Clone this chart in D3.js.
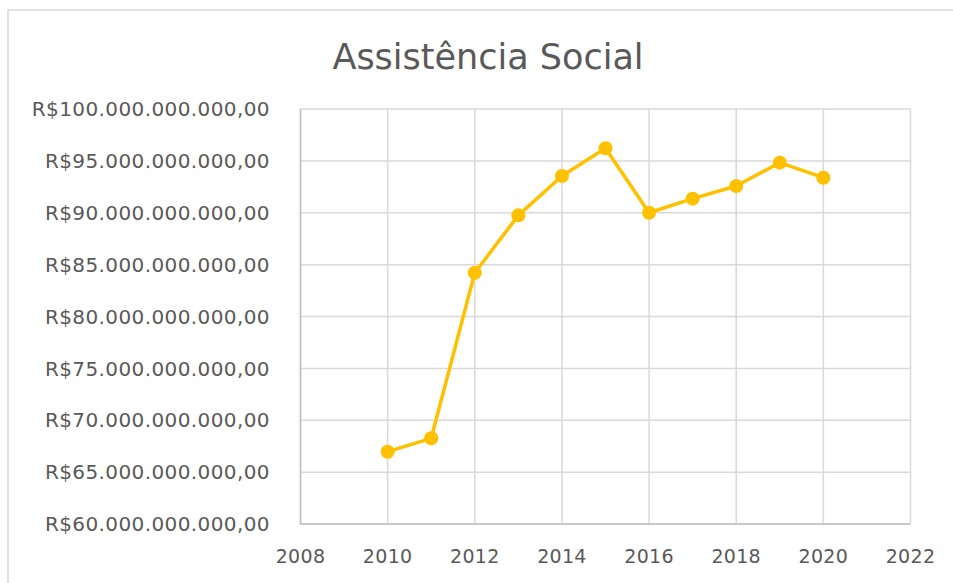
<!DOCTYPE html>
<html>
<head>
<meta charset="utf-8">
<script src="https://cdn.jsdelivr.net/npm/d3@7"></script>
<style>
  body { margin: 0; background: #fff; }
  text { font-family: "DejaVu Sans", sans-serif; fill: #595959; }
</style>
</head>
<body>
<svg id="chart" width="953" height="583"></svg>
<script>
// data
var years = [2010, 2011, 2012, 2013, 2014, 2015, 2016, 2017, 2018, 2019, 2020];
var values = [66.97e9, 68.26e9, 84.22e9, 89.75e9, 93.54e9, 96.21e9, 90.0e9, 91.36e9, 92.58e9, 94.83e9, 93.38e9];
var xTicks = [2008, 2010, 2012, 2014, 2016, 2018, 2020, 2022];
var yTicks = [60e9, 65e9, 70e9, 75e9, 80e9, 85e9, 90e9, 95e9, 100e9];
var title = "Assistência Social";

var svg = d3.select("#chart");

// outer chart border
svg.append("rect")
    .attr("x", 8).attr("y", 10)
    .attr("width", 960).attr("height", 600)
    .attr("fill", "none")
    .attr("stroke", "#d9d9d9")
    .attr("stroke-width", 1.5);

var x = d3.scaleLinear().domain([2008, 2022]).range([300.5, 910.5]);
var y = d3.scaleLinear().domain([60e9, 100e9]).range([524, 109]);

// format like R$95.000.000.000,00
function brl(v){
    var s = d3.format(",.2f")(v);
    return "R$" + s.replace(/,/g, "#").replace(".", ",").replace(/#/g, ".");
}

// gridlines
svg.append("g").selectAll("line").data(yTicks).join("line")
    .attr("x1", x(2008)).attr("x2", x(2022))
    .attr("y1", function(d){ return y(d); }).attr("y2", function(d){ return y(d); })
    .attr("stroke", "#d9d9d9").attr("stroke-width", 1.5);

svg.append("g").selectAll("line").data(xTicks).join("line")
    .attr("x1", function(d){ return x(d); }).attr("x2", function(d){ return x(d); })
    .attr("y1", y(60e9)).attr("y2", y(100e9))
    .attr("stroke", "#d9d9d9").attr("stroke-width", 1.5);

// axis lines
svg.append("line")
    .attr("x1", x(2008)).attr("x2", x(2022))
    .attr("y1", y(60e9)).attr("y2", y(60e9))
    .attr("stroke", "#bfbfbf").attr("stroke-width", 1.5);
svg.append("line")
    .attr("x1", x(2008)).attr("x2", x(2008))
    .attr("y1", y(60e9)).attr("y2", y(100e9))
    .attr("stroke", "#bfbfbf").attr("stroke-width", 1.5);

// y labels
svg.append("g").selectAll("text").data(yTicks).join("text")
    .attr("x", 270)
    .attr("y", function(d){ return y(d); })
    .attr("dy", "0.36em")
    .attr("text-anchor", "end")
    .style("font-size", "20px")
    .style("letter-spacing", "0.4px")
    .text(brl);

// x labels
svg.append("g").selectAll("text").data(xTicks).join("text")
    .attr("x", function(d){ return x(d); })
    .attr("y", 563)
    .attr("text-anchor", "middle")
    .style("font-size", "19px")
    .style("letter-spacing", "0.3px")
    .text(function(d){ return d; });

// title
svg.append("text")
    .attr("x", 488).attr("y", 69)
    .attr("text-anchor", "middle")
    .style("font-size", "35px")
    .text(title);

// series
var pts = years.map(function(d, i){ return [d, values[i]]; });
var line = d3.line()
    .x(function(d){ return x(d[0]); })
    .y(function(d){ return y(d[1]); });

svg.append("path")
    .datum(pts)
    .attr("d", line)
    .attr("fill", "none")
    .attr("stroke", "#ffc000")
    .attr("stroke-width", 3.5)
    .attr("stroke-linejoin", "round");

svg.append("g").selectAll("circle").data(pts).join("circle")
    .attr("cx", function(d){ return x(d[0]); })
    .attr("cy", function(d){ return y(d[1]); })
    .attr("r", 7)
    .attr("fill", "#ffc000");
</script>
</body>
</html>
